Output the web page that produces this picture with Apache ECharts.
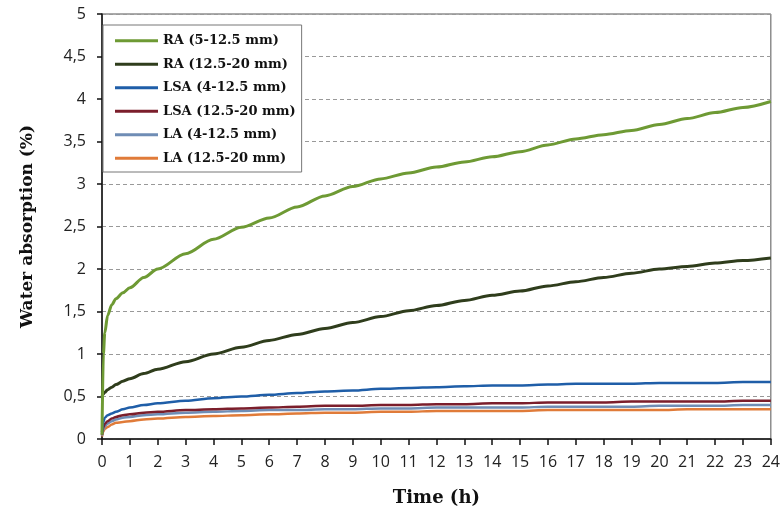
<!DOCTYPE html>
<html>
<head>
<meta charset="utf-8">
<script src="https://cdn.jsdelivr.net/npm/echarts@6/dist/echarts.min.js"></script>
<style>
  html, body { margin: 0; padding: 0; background: #fff; }
  #main { width: 783px; height: 512px; }
</style>
</head>
<body>
<div id="main"></div>
<script>
// time (h)
var times = [0, 0.05, 0.1, 0.2, 0.35, 0.5, 0.75, 1, 1.5, 2, 3, 4, 5, 6, 7, 8, 9, 10, 11, 12, 13, 14, 15, 16, 17, 18, 19, 20, 21, 22, 23, 24];

// water absorption (%)
var ra512 = [0.05, 1.0, 1.25, 1.45, 1.58, 1.65, 1.72, 1.78, 1.9, 2.0, 2.18, 2.35, 2.49, 2.6, 2.73, 2.86, 2.97, 3.06, 3.13, 3.2, 3.26, 3.32, 3.38, 3.46, 3.53, 3.58, 3.63, 3.7, 3.77, 3.84, 3.9, 3.97];
var ra1220 = [0.5, 0.53, 0.55, 0.58, 0.61, 0.64, 0.68, 0.71, 0.77, 0.82, 0.91, 1.0, 1.08, 1.16, 1.23, 1.3, 1.37, 1.44, 1.51, 1.57, 1.63, 1.69, 1.74, 1.8, 1.85, 1.9, 1.95, 2.0, 2.03, 2.07, 2.1, 2.13];
var lsa412 = [0.08, 0.2, 0.25, 0.28, 0.3, 0.32, 0.35, 0.37, 0.4, 0.42, 0.45, 0.48, 0.5, 0.52, 0.54, 0.56, 0.57, 0.59, 0.6, 0.61, 0.62, 0.63, 0.63, 0.64, 0.65, 0.65, 0.65, 0.66, 0.66, 0.66, 0.67, 0.67];
var lsa1220 = [0.05, 0.14, 0.18, 0.21, 0.24, 0.26, 0.28, 0.29, 0.31, 0.32, 0.34, 0.35, 0.36, 0.37, 0.38, 0.39, 0.39, 0.4, 0.4, 0.41, 0.41, 0.42, 0.42, 0.43, 0.43, 0.43, 0.44, 0.44, 0.44, 0.44, 0.45, 0.45];
var la412 = [0.04, 0.11, 0.15, 0.18, 0.21, 0.23, 0.25, 0.26, 0.28, 0.29, 0.31, 0.32, 0.33, 0.34, 0.34, 0.35, 0.35, 0.36, 0.36, 0.37, 0.37, 0.37, 0.37, 0.38, 0.38, 0.38, 0.38, 0.39, 0.39, 0.39, 0.4, 0.4];
var la1220 = [0.03, 0.09, 0.12, 0.14, 0.17, 0.19, 0.2, 0.21, 0.23, 0.24, 0.26, 0.27, 0.28, 0.29, 0.3, 0.31, 0.31, 0.32, 0.32, 0.33, 0.33, 0.33, 0.33, 0.34, 0.34, 0.34, 0.34, 0.34, 0.35, 0.35, 0.35, 0.35];

var names = ['RA (5-12.5 mm)', 'RA (12.5-20 mm)', 'LSA (4-12.5 mm)', 'LSA (12.5-20 mm)', 'LA (4-12.5 mm)', 'LA (12.5-20 mm)'];
var colors = ['#6e9a34', '#2f3d1c', '#1f5ea8', '#7b1e2b', '#6f8db5', '#e07b39'];
var values = [ra512, ra1220, lsa412, lsa1220, la412, la1220];

var myChart = echarts.init(document.getElementById('main'));

var series = [];
for (var i = 0; i < names.length; i++) {
    var pts = [];
    for (var j = 0; j < times.length; j++) {
        pts.push([times[j], values[i][j]]);
    }
    series.push({
        name: names[i],
        type: 'line',
        data: pts,
        symbol: 'none',
        smooth: 0.3,
        smoothMonotone: 'x',
        lineStyle: { color: colors[i], width: i < 2 ? 3 : 2.5 },
        itemStyle: { color: colors[i] },
        z: 10 - i
    });
}

var option = {
    animation: false,
    backgroundColor: '#fff',
    grid: {
        left: 102,
        right: 8,
        top: 14,
        bottom: 73,
        show: true,
        borderColor: '#555',
        borderWidth: 1
    },
    legend: {
        orient: 'vertical',
        left: 103,
        top: 25,
        icon: 'rect',
        itemWidth: 43,
        itemHeight: 3,
        itemGap: 8,
        padding: [8, 6, 6, 12],
        backgroundColor: '#fff',
        borderColor: '#777',
        borderWidth: 1,
        textStyle: {
            fontFamily: 'DejaVu Serif',
            fontWeight: 'bold',
            fontSize: 13,
            lineHeight: 15.5,
            color: '#111'
        },
        data: names
    },
    xAxis: {
        type: 'value',
        min: 0,
        max: 24,
        interval: 1,
        name: 'Time (h)',
        nameLocation: 'middle',
        nameGap: 50,
        nameTextStyle: {
            fontFamily: 'DejaVu Serif',
            fontWeight: 'bold',
            fontSize: 18,
            color: '#111'
        },
        axisLine: { lineStyle: { color: '#111', width: 1.5 } },
        axisTick: { length: 6, lineStyle: { color: '#111', width: 1.5 } },
        axisLabel: {
            fontFamily: 'Open Sans',
            fontSize: 16,
            color: '#222',
            margin: 15
        },
        splitLine: { show: false }
    },
    yAxis: {
        type: 'value',
        min: 0,
        max: 5,
        interval: 0.5,
        name: 'Water absorption (%)',
        nameLocation: 'middle',
        nameGap: 66,
        nameTextStyle: {
            fontFamily: 'DejaVu Serif',
            fontWeight: 'bold',
            fontSize: 17,
            color: '#111'
        },
        axisLine: { show: true, lineStyle: { color: '#111', width: 1.5 } },
        axisTick: { show: true, length: 5, lineStyle: { color: '#111', width: 1.5 } },
        axisLabel: {
            fontFamily: 'Open Sans',
            fontSize: 16,
            color: '#222',
            margin: 16,
            formatter: function (v) { return String(v).replace('.', ','); }
        },
        splitLine: {
            show: true,
            lineStyle: { color: '#999', width: 1.2, type: [4, 3] }
        }
    },
    series: series
};
myChart.setOption(option);
</script>
</body>
</html>
